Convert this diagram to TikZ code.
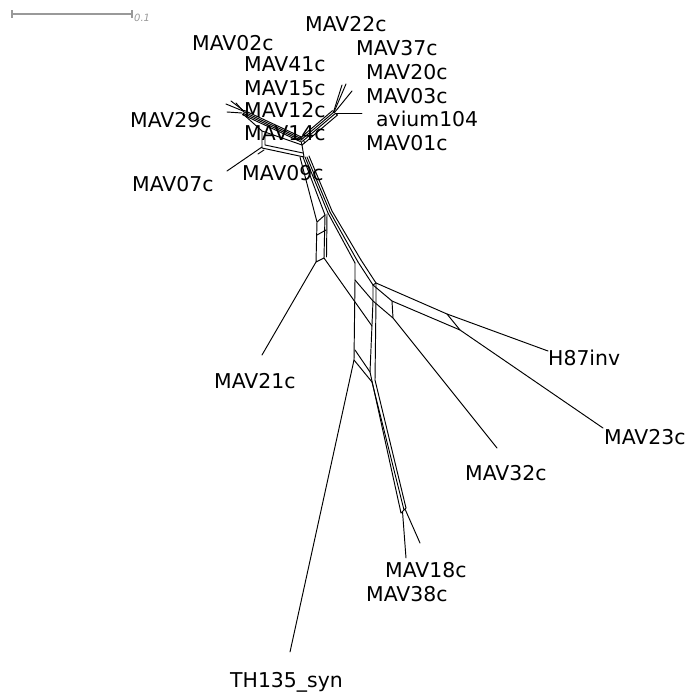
\documentclass[tikz,border=0pt]{standalone}
\usepackage{fontspec}
\setmainfont{DejaVu Sans}
\begin{document}
\begin{tikzpicture}[x=1pt,y=-1pt,
  net/.style={line width=0.95pt, line join=round, line cap=round},
  lbl/.style={anchor=base west, inner sep=0pt, font=\fontsize{20.4}{24}\selectfont},
  barline/.style={draw=black!40, line width=1.3pt}]
\useasboundingbox (0,0) rectangle (691,696);
% scale bar
\coordinate (sb1) at (12,14);
\coordinate (sb2) at (132,14);
\draw[barline] (sb1) -- (sb2);
\draw[barline] (12,10) -- (12,18);
\draw[barline] (132,10) -- (132,18);
\node[anchor=base west, inner sep=0pt, text=black!40, font=\fontsize{10}{11}\selectfont\itshape] (sbl) at (134,21) {0.1};
% labels
\node[lbl] (l22) at (305,31) {MAV22c};
\node[lbl] (l02) at (192,50) {MAV02c};
\node[lbl] (l37) at (356,55) {MAV37c};
\node[lbl] (l41) at (244,71) {MAV41c};
\node[lbl] (l20) at (366,79) {MAV20c};
\node[lbl] (l15) at (244,95) {MAV15c};
\node[lbl] (l03) at (366,103) {MAV03c};
\node[lbl] (l12) at (244,117) {MAV12c};
\node[lbl] (l29) at (130,127) {MAV29c};
\node[lbl] (lav) at (376,126) {avium104};
\node[lbl] (l14) at (244,140) {MAV14c};
\node[lbl] (l01) at (366,150) {MAV01c};
\node[lbl] (l09) at (242,180) {MAV09c};
\node[lbl] (l07) at (132,191) {MAV07c};
\node[lbl] (l21) at (214,388) {MAV21c};
\node[lbl] (lh87) at (548,365) {H87inv};
\node[lbl] (l23) at (604,444) {MAV23c};
\node[lbl] (l32) at (465,480) {MAV32c};
\node[lbl] (l18) at (385,577) {MAV18c};
\node[lbl] (l38) at (366,601) {MAV38c};
\node[lbl] (lth) at (230,687) {TH135\_syn};
% leaf ends
\coordinate (e29) at (227,112);
\coordinate (e07) at (227,171);
\coordinate (eav) at (362,113);
\coordinate (e21) at (262,355);
\coordinate (eh87) at (548,351);
\coordinate (e23) at (603,428);
\coordinate (e32) at (497,448);
\coordinate (e18) at (420,543);
\coordinate (e38) at (406,558);
\coordinate (eth) at (290,652);
\begin{scope}[net]
% top-left bundle
\draw (244.2,110.4) -- (302.2,137.4);
\draw (243.6,111.8) -- (301.6,138.8);
\draw (243.0,113.2) -- (301.0,140.2);
\draw (242.4,114.6) -- (300.4,141.6);
% left fan
\draw (243,111) -- (226,104);
\draw (244,111) -- (231,101);
\draw (244,112) -- (236,103);
\draw (242,113) -- (e29);
% lower strand and box
\draw (243,114) -- (262,131) -- (302,145);
\draw (262,131) -- (262,148) -- (304,157) -- (302,145);
\draw (265,133) -- (265,145) -- (303,153);
\draw (302,145) -- (301,141);
\draw (262,147) -- (e07);
\draw (264,150) -- (258,154);
% right hub bundle
\draw (299.6,138.6) -- (332.6,110.6);
\draw (301,140) -- (334,112);
\draw (302.4,141.4) -- (335.4,113.4);
\draw (302,145) -- (304.5,143) -- (337.5,115) -- (335.4,113.4);
\draw (304,141) -- (304.5,143);
% right fan
\draw (333.5,112) -- (342,85);
\draw (334,112) -- (346,84);
\draw (334.5,112.5) -- (352,91);
\draw (336,113) -- (eav);
% trunk
\draw (300,157) -- (317,222);
\draw (303,157) -- (325,215);
\draw (305,157) -- (328,213) -- (355,263);
\draw (307,157) -- (330,212) -- (358,262);
\draw (309,156) -- (332,211) -- (361,260);
% left branch box
\draw (317,222) -- (325,215);
\draw (317,222) -- (316,262) -- (324,258) -- (325,215);
\draw (327,214) -- (326.5,257);
\draw (317,235) -- (326,230);
\draw (316,262) -- (e21);
\draw (324,258) -- (372,326);
% tall box and right block
\draw (355,263) -- (355,280) -- (354,360);
\draw (358,262) -- (373,285);
\draw (361,260) -- (376,283);
\draw (373,285) -- (376,283);
\draw (355,280) -- (373,301) -- (393,318) -- (e32);
\draw (373,285) -- (392,301) -- (393,318);
\draw (373,285) -- (373,301) -- (370,372);
\draw (376,283) -- (376,301) -- (375,380);
\draw (355,350) -- (370,372);
\draw (354,360) -- (372,382);
\draw (354,360) -- (eth);
% H87 / MAV23c
\draw (376,283) -- (447,314) -- (eh87);
\draw (392,301) -- (460,330) -- (e23);
\draw (447,314) -- (460,330);
% down to MAV18c / MAV38c
\draw (370,372) -- (401,513);
\draw (372,382) -- (404,510);
\draw (375,380) -- (406,508);
\draw (401,513) -- (404,510) -- (406,508);
\draw (402.5,511.5) -- (e38);
\draw (405,509) -- (e18);
\end{scope}
\end{tikzpicture}
\end{document}
